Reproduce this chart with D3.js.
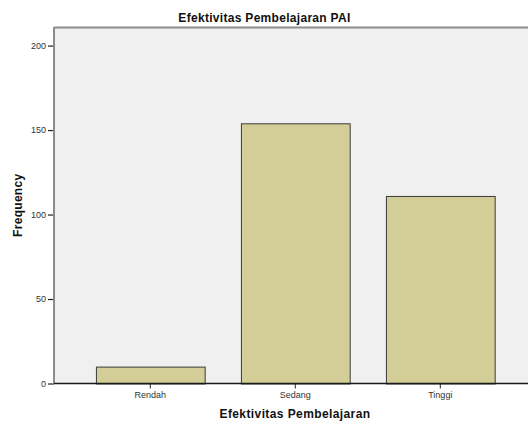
<!DOCTYPE html>
<html><head><meta charset="utf-8">
<script src="https://cdn.jsdelivr.net/npm/d3@7"></script>
<style>body{margin:0;background:#fff;}svg{display:block;font-family:"Liberation Sans",Arial,sans-serif;}</style>
</head><body>
<svg id="c" width="528" height="425"></svg>
<script>
const categories = ["Rendah", "Sedang", "Tinggi"];
const frequencies = [10, 154, 111];
const yTicks = [0, 50, 100, 150, 200];
const title = "Efektivitas Pembelajaran PAI";
const xTitle = "Efektivitas Pembelajaran";
const yTitle = "Frequency";

const svg = d3.select("#c");
const plot = {left: 54, right: 528, top: 27, bottom: 383.5};

const y = d3.scaleLinear().domain([0, 211]).range([plot.bottom, plot.top]);
const x = d3.scaleBand().domain(categories).range([77.8, 512.8]).paddingInner(0.25).paddingOuter(0.125);

// background
svg.append("rect").attr("x", plot.left).attr("y", plot.top)
  .attr("width", plot.right - plot.left).attr("height", plot.bottom - plot.top)
  .attr("fill", "#f0f0f0");
// top border
svg.append("line").attr("x1", plot.left).attr("x2", plot.right).attr("y1", plot.top + 0.5).attr("y2", plot.top + 0.5)
  .attr("stroke", "#8c8c8c").attr("stroke-width", 2);

// bars
svg.selectAll("rect.bar").data(categories).enter().append("rect").attr("class", "bar")
  .attr("x", d => x(d) + 0.5)
  .attr("y", (d, i) => y(frequencies[i]) + 0.5)
  .attr("width", x.bandwidth())
  .attr("height", (d, i) => y(0) - y(frequencies[i]))
  .attr("fill", "#d3ce98").attr("stroke", "#3a3a3a").attr("stroke-width", 1);

// y axis
const yAxis = d3.axisLeft(y).tickValues(yTicks).tickSize(6).tickPadding(2);
const gy = svg.append("g").attr("transform", `translate(${plot.left},0)`).call(yAxis);
gy.select(".domain").remove();
gy.selectAll(".tick line").attr("stroke", "#222").attr("stroke-width", 1.2);
gy.selectAll(".tick text").attr("font-size", "9px").attr("fill", "#333").attr("font-family", "Liberation Sans, Arial, sans-serif");
svg.append("line").attr("x1", plot.left).attr("x2", plot.left).attr("y1", plot.top).attr("y2", plot.bottom)
  .attr("stroke", "#8c8c8c").attr("stroke-width", 2);

// x axis
const xAxis = d3.axisBottom(x).tickSize(5).tickPadding(3);
const gx = svg.append("g").attr("transform", `translate(0,${plot.bottom})`).call(xAxis);
gx.select(".domain").remove();
gx.selectAll(".tick line").attr("stroke", "#222");
gx.selectAll(".tick text").attr("font-size", "9px").attr("fill", "#333").attr("font-family", "Liberation Sans, Arial, sans-serif");
svg.append("line").attr("x1", plot.left).attr("x2", plot.right).attr("y1", plot.bottom).attr("y2", plot.bottom)
  .attr("stroke", "#1a1a1a").attr("stroke-width", 1.3);

// titles
svg.append("text").attr("x", 264.5).attr("y", 22).attr("text-anchor", "middle")
  .attr("font-size", "12px").attr("font-weight", "bold").attr("letter-spacing", "0.3px").attr("fill", "#111").text(title);
svg.append("text").attr("x", 295).attr("y", 418).attr("text-anchor", "middle")
  .attr("font-size", "12px").attr("font-weight", "bold").attr("letter-spacing", "0.4px").attr("fill", "#111").text(xTitle);
svg.append("text").attr("transform", `translate(22,${(plot.top + plot.bottom) / 2}) rotate(-90)`)
  .attr("text-anchor", "middle").attr("font-size", "12px").attr("font-weight", "bold").attr("letter-spacing", "0.3px")
  .attr("fill", "#111").text(yTitle);
</script>
</body></html>
